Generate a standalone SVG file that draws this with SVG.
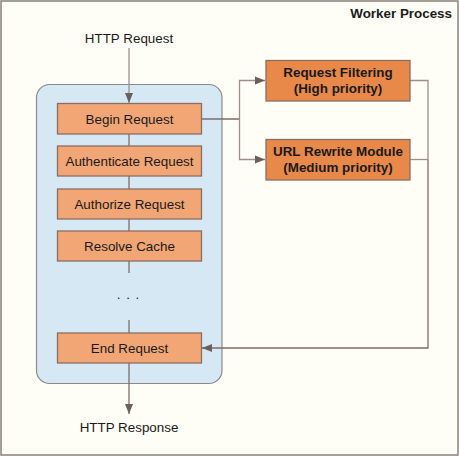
<svg xmlns="http://www.w3.org/2000/svg" width="459" height="456" viewBox="0 0 459 456">
<defs>
<style>
text{font-family:"Liberation Sans",Arial,sans-serif;font-size:13.4px;fill:#1a1a1a}
.b{font-weight:bold}
.step{fill:#f2a676;stroke:#8a6e62;stroke-width:1.3}
.mod{fill:#e8894a;stroke:#8a6e62;stroke-width:1.3}
.ln{fill:none;stroke:#7e6c69;stroke-width:1.3}
.ln2{fill:none;stroke:#9e8f8b;stroke-width:1.3}
</style>
<marker id="ah" viewBox="0 0 10 10" refX="10" refY="5" markerWidth="10" markerHeight="10" markerUnits="userSpaceOnUse" orient="auto">
<path d="M0,1 L10,5 L0,9 Z" fill="#6e5e5b"/>
</marker>
</defs>
<rect x="1" y="1" width="457" height="454" fill="#fffef6" stroke="#8a7f7a" stroke-width="1.5"/>
<text class="b" x="452" y="18" text-anchor="end">Worker Process</text>
<text x="129" y="43" text-anchor="middle">HTTP Request</text>
<text x="129" y="432" text-anchor="middle">HTTP Response</text>
<g id="pipeline">
<rect x="36.5" y="84.5" width="185.5" height="299" rx="13" fill="#d7e8f5" stroke="#8a8a8a" stroke-width="1.2"/>
</g>
<g id="connectors">
<path class="ln2" d="M129,48 V103" marker-end="url(#ah)"/>
<path class="ln" d="M129,134 V146 M129,176 V189 M129,219 V231 M129,261 V273 M129,320 V333"/>
<path class="ln" d="M129,363 V414" marker-end="url(#ah)"/>
<path class="ln" d="M201,119 H239.5"/>
<path class="ln2" d="M239.5,119 V80.5 H265" marker-end="url(#ah)"/>
<path class="ln2" d="M239.5,119 V159.5 H265" marker-end="url(#ah)"/>
<path class="ln2" d="M410,80.5 H428 V159.5"/>
<path class="ln2" d="M410,159.5 H428"/>
<path class="ln" d="M428,159.5 V348 H202" marker-end="url(#ah)"/>
</g>
<g id="begin"><rect class="step" x="57.5" y="103.5" width="144" height="30.5"/><text x="129.5" y="123.5" text-anchor="middle">Begin Request</text></g>
<g id="auth"><rect class="step" x="57.5" y="146" width="144" height="30"/><text x="129.5" y="165.5" text-anchor="middle">Authenticate Request</text></g>
<g id="authz"><rect class="step" x="57.5" y="189" width="144" height="30"/><text x="129.5" y="208.5" text-anchor="middle">Authorize Request</text></g>
<g id="cache"><rect class="step" x="57.5" y="231" width="144" height="30"/><text x="129.5" y="250.5" text-anchor="middle">Resolve Cache</text></g>
<g id="dots"><text x="128.5" y="299" text-anchor="middle" letter-spacing="1">. . .</text></g>
<g id="end"><rect class="step" x="57.5" y="333" width="144" height="30"/><text x="129.5" y="352.5" text-anchor="middle">End Request</text></g>
<g id="filtering"><rect class="mod" x="266" y="60.5" width="144" height="40.5"/><text class="b" x="338" y="77" text-anchor="middle">Request Filtering</text><text class="b" x="338" y="93" text-anchor="middle">(High priority)</text></g>
<g id="rewrite"><rect class="mod" x="266" y="139.5" width="144" height="40.5"/><text class="b" x="338" y="156" text-anchor="middle">URL Rewrite Module</text><text class="b" x="338" y="172" text-anchor="middle">(Medium priority)</text></g>
</svg>
